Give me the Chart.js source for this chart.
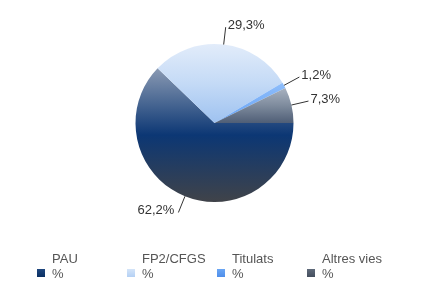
<!DOCTYPE html>
<html>
<head>
<meta charset="utf-8">
<script src="https://cdn.jsdelivr.net/npm/chart.js@4"></script>
<style>
  html, body { margin: 0; padding: 0; background: #fff; }
  #wrap { width: 429px; height: 306px; }
</style>
</head>
<body>
<div id="wrap"><canvas id="pie" width="429" height="306"></canvas></div>
<script>
// ── data ──
const categories = ['PAU', 'FP2/CFGS', 'Titulats', 'Altres vies']
const shares     = [62.2, 29.3, 1.2, 7.3]
const legendUnit = '%'

// gradient stops per slice (top → bottom of slice box)
const sliceStops = [
  ['#8a9ab3', '#0c3774', '#404349'],
  ['#e2ecfa', '#c4daf6', '#9ec2f0'],
  ['#8ebdfa', '#7ab0f8', '#68a4f4'],
  ['#a8b2c0', '#7e8b9d', '#4f5e76'],
]
const legendStops = [
  ['#1f477f', '#0a2f63'],
  ['#d4e4f8', '#b4d0f4'],
  ['#6aa6f4', '#4f8eea'],
  ['#5f6a7a', '#444e5e'],
]

const FONT = '"Liberation Sans", Arial, sans-serif'

// vertical extent of slice i, worked out from the chart area and the data
function sliceBox(chart, i) {
  const a = chart.chartArea
  const cx = (a.left + a.right) / 2, cy = (a.top + a.bottom) / 2
  const r = Math.min(a.right - a.left, a.bottom - a.top) / 2
  const total = shares.reduce((s, v) => s + v, 0)
  let start = 0
  for (let k = 0; k < i; k++) start += shares[k] / total * Math.PI * 2
  const end = start + shares[i] / total * Math.PI * 2
  const ys = [cy, cy + r * Math.sin(start), cy + r * Math.sin(end)]
  ;[Math.PI / 2, Math.PI * 1.5].forEach(t => { if (t > start && t < end) ys.push(cy + r * Math.sin(t)) })
  return { top: Math.min(...ys), bottom: Math.max(...ys) }
}

function sliceFill(c) {
  const chart = c.chart
  if (!chart.chartArea) return sliceStops[c.dataIndex][1]
  const b = sliceBox(chart, c.dataIndex)
  const g = chart.ctx.createLinearGradient(0, b.top, 0, b.bottom)
  const s = sliceStops[c.dataIndex]
  g.addColorStop(0, s[0]); g.addColorStop(0.5, s[1]); g.addColorStop(1, s[2])
  return g
}

// outside labels with leader lines
const pieLabels = {
  id: 'pieLabels',
  afterDatasetsDraw(chart) {
    const ctx = chart.ctx
    const meta = chart.getDatasetMeta(0)
    ctx.save()
    ctx.font = '13px ' + FONT
    ctx.fillStyle = '#333'
    ctx.strokeStyle = '#333'
    ctx.lineWidth = 1
    ctx.textBaseline = 'alphabetic'
    meta.data.forEach((arc, i) => {
      const mid = (arc.startAngle + arc.endAngle) / 2
      const r = arc.outerRadius
      const x0 = arc.x + Math.cos(mid) * r, y0 = arc.y + Math.sin(mid) * r
      const x1 = arc.x + Math.cos(mid) * (r + 17.5), y1 = arc.y + Math.sin(mid) * (r + 17.5)
      ctx.beginPath(); ctx.moveTo(x0, y0); ctx.lineTo(x1, y1); ctx.stroke()
      const txt = shares[i].toFixed(1).replace('.', ',') + '%'
      const right = Math.cos(mid) >= 0
      ctx.textAlign = right ? 'left' : 'right'
      ctx.fillText(txt, right ? x1 + 2 : x1 - 4, y1 + 2)
    })
    ctx.restore()
  }
}

// legend along the bottom, two-line labels
const bottomLegend = {
  id: 'bottomLegend',
  afterDraw(chart) {
    const ctx = chart.ctx
    ctx.save()
    ctx.font = '13px ' + FONT
    ctx.fillStyle = '#555'
    ctx.textAlign = 'left'
    ctx.textBaseline = 'alphabetic'
    categories.forEach((name, i) => {
      const x = 37 + i * 90
      const g = ctx.createLinearGradient(0, 269, 0, 277)
      g.addColorStop(0, legendStops[i][0]); g.addColorStop(1, legendStops[i][1])
      ctx.fillStyle = g
      ctx.fillRect(x, 269, 8, 8)
      ctx.fillStyle = '#555'
      ctx.fillText(name, x + 15, 263)
      ctx.fillText(legendUnit, x + 15, 278)
    })
    ctx.restore()
  }
}

new Chart(document.getElementById('pie'), {
  type: 'pie',
  data: {
    labels: categories,
    datasets: [{
      data: shares,
      backgroundColor: sliceFill,
      borderWidth: 0,
    }]
  },
  options: {
    responsive: false,
    animation: false,
    rotation: 90,
    layout: { padding: { top: 44, bottom: 104, left: 0, right: 0 } },
    plugins: { legend: { display: false }, tooltip: { enabled: false } },
  },
  plugins: [pieLabels, bottomLegend],
})
</script>
</body>
</html>
